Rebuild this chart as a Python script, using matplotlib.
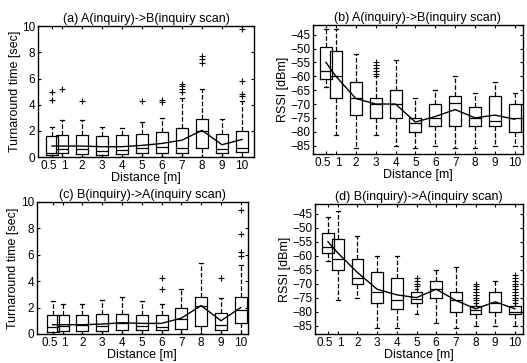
import numpy as np
import matplotlib.pyplot as plt
import matplotlib.transforms as mtransforms

plt.rcParams['font.family'] = ['Liberation Sans', 'DejaVu Sans']

# x positions / labels
dist = [0.5, 1, 2, 3, 4, 5, 6, 7, 8, 9, 10]
dist_labels = ['0.5', '1', '2', '3', '4', '5', '6', '7', '8', '9', '10']

# (a) A(inquiry)->B(inquiry scan), turnaround time [sec]
a_lo = [0, 0, 0, 0, 0, 0, 0, 0, 0, 0, 0]
a_q1 = [0.2, 0.3, 0.25, 0.2, 0.25, 0.35, 0.35, 0.3, 0.7, 0.3, 0.4]
a_med = [0.35, 0.6, 0.6, 0.45, 0.55, 0.7, 0.8, 0.7, 2.0, 0.6, 0.7]
a_q3 = [1.6, 1.7, 1.7, 1.6, 1.7, 1.8, 1.9, 2.2, 2.9, 1.8, 2.0]
a_hi = [2.3, 2.8, 2.8, 2.3, 2.2, 2.7, 3.0, 4.5, 5.2, 2.9, 4.3]
a_mean = [0.85, 0.85, 0.85, 0.8, 0.8, 0.9, 1.05, 1.3, 2.05, 0.95, 1.35]
a_out = [[4.4, 5.0], [5.2], [4.3], [], [], [4.3], [4.2, 4.35],
         [5.0, 5.2, 5.4, 5.6], [7.2, 7.5, 7.7], [], [4.7, 4.8, 5.8, 9.8]]

# (b) A(inquiry)->B(inquiry scan), RSSI [dBm]
b_lo = [-64, -81, -86, -81, -85, -86, -85, -86, -86, -85, -85]
b_q1 = [-61, -68, -74, -75, -75, -80, -78, -78, -78, -78, -80]
b_med = [-58, -60, -68, -70, -70, -77, -75, -69.5, -75, -76, -75]
b_q3 = [-49.5, -51, -62, -68, -65, -75, -70, -67, -71, -67, -70]
b_hi = [-43, -43, -52, -60, -54, -68, -65, -60, -66, -62, -66]
b_mean = [-55, -60, -68, -70, -70, -76.5, -74.5, -72, -75, -74, -75.5]
b_out = [[], [], [], [-55, -56, -57, -58, -59], [], [], [], [], [], [], []]

# (c) B(inquiry)->A(inquiry scan), turnaround time [sec]
c_lo = [0, 0, 0, 0, 0, 0, 0, 0, 0, 0, 0]
c_q1 = [0.15, 0.25, 0.25, 0.25, 0.3, 0.3, 0.3, 0.4, 0.6, 0.3, 0.8]
c_med = [0.5, 0.6, 0.65, 0.6, 0.8, 0.6, 0.5, 1.1, 2.1, 0.7, 1.8]
c_q3 = [1.4, 1.4, 1.4, 1.5, 1.5, 1.4, 1.4, 2.0, 2.8, 1.6, 2.8]
c_hi = [2.5, 2.3, 2.3, 2.6, 2.8, 2.5, 2.3, 3.4, 5.4, 2.7, 5.2]
c_mean = [0.7, 0.7, 0.7, 0.75, 0.85, 0.8, 0.8, 1.2, 2.15, 1.0, 2.0]
c_out = [[], [], [], [], [], [], [3.4, 4.2], [], [], [4.2],
         [5.9, 6.2, 7.6, 9.4]]

# (d) B(inquiry)->A(inquiry scan), RSSI [dBm]
d_lo = [-62, -76, -75, -86, -86, -81, -84, -86, -85, -85, -85]
d_q1 = [-59, -65, -70, -77, -79, -77, -75, -80, -81, -80, -81]
d_med = [-57, -61, -68, -73, -76, -75.5, -72, -76, -79.5, -77, -80]
d_q3 = [-52, -54, -61, -66, -68, -73, -69, -73, -78, -73, -78]
d_hi = [-46, -44, -53, -60, -60, -72, -65, -64, -77, -69, -77]
d_mean = [-55, -59, -66, -72, -74, -75, -72, -76, -79, -76.5, -79]
d_out = [[], [], [], [], [], [-68, -69, -70, -71], [], [],
         [-70, -71, -72, -73, -74, -75, -76], [],
         [-67, -68, -69, -70, -71, -72, -73, -74, -75, -76]]


def draw(ax, lo, q1, med, q3, hi, mean, out):
    stats = []
    for i in range(len(dist)):
        stats.append(dict(whislo=lo[i], q1=q1[i], med=med[i], q3=q3[i],
                          whishi=hi[i], fliers=out[i]))
    ax.bxp(stats, positions=dist, widths=0.6, capwidths=0.2,
           boxprops=dict(color='black', linewidth=0.9),
           medianprops=dict(color='black', linewidth=0.9),
           whiskerprops=dict(color='black', linestyle='--', linewidth=0.9),
           capprops=dict(color='black', linewidth=0.9),
           flierprops=dict(marker='+', markeredgecolor='black',
                           markersize=4, markeredgewidth=0.8),
           manage_ticks=False)
    # mean line through all distances
    ax.plot(dist, mean, color='black', linewidth=1.0)
    ax.set_xticks(dist)
    ax.set_xticklabels(dist_labels)
    ax.tick_params(direction='in', top=True, right=True, labelsize=8.5,
                   length=2.5, pad=2)
    # nudge the crowded 0.5 / 1 labels apart
    labs = ax.get_xticklabels()
    labs[0].set_transform(labs[0].get_transform() +
                          mtransforms.ScaledTranslation(-2.5 / 72, 0, fig.dpi_scale_trans))
    labs[1].set_transform(labs[1].get_transform() +
                          mtransforms.ScaledTranslation(1.5 / 72, 0, fig.dpi_scale_trans))
    for s in ax.spines.values():
        s.set_linewidth(1.0)
    ax.set_xlabel('Distance [m]', fontsize=9, labelpad=0)


fig = plt.figure(figsize=(5.27, 3.63), dpi=100)

ax_a = fig.add_axes([0.072, 0.567, 0.41, 0.361])
draw(ax_a, a_lo, a_q1, a_med, a_q3, a_hi, a_mean, a_out)
ax_a.set_xlim(-0.2, 10.6)
ax_a.set_ylim(0, 10)
ax_a.set_yticks([0, 2, 4, 6, 8, 10])
ax_a.set_ylabel('Turnaround time [sec]', fontsize=9, labelpad=1)
ax_a.set_title('(a) A(inquiry)->B(inquiry scan)', fontsize=9, pad=3)

ax_b = fig.add_axes([0.594, 0.576, 0.398, 0.355])
draw(ax_b, b_lo, b_q1, b_med, b_q3, b_hi, b_mean, b_out)
ax_b.set_xlim(-0.15, 10.4)
ax_b.set_ylim(-88, -41.5)
ax_b.set_yticks(np.arange(-85, -44, 5))
ax_b.set_ylabel('RSSI [dBm]', fontsize=9, labelpad=1)
ax_b.set_title('(b) A(inquiry)->B(inquiry scan)', fontsize=9, pad=3)

ax_c = fig.add_axes([0.070, 0.080, 0.40, 0.364])
draw(ax_c, c_lo, c_q1, c_med, c_q3, c_hi, c_mean, c_out)
ax_c.set_xlim(-0.3, 10.35)
ax_c.set_ylim(0, 10)
ax_c.set_yticks([0, 2, 4, 6, 8, 10])
ax_c.set_ylabel('Turnaround time [sec]', fontsize=9, labelpad=1)
ax_c.set_title('(c) B(inquiry)->A(inquiry scan)', fontsize=9, pad=3)

ax_d = fig.add_axes([0.598, 0.080, 0.394, 0.358])
draw(ax_d, d_lo, d_q1, d_med, d_q3, d_hi, d_mean, d_out)
ax_d.set_xlim(-0.15, 10.4)
ax_d.set_ylim(-88, -41.5)
ax_d.set_yticks(np.arange(-85, -44, 5))
ax_d.set_ylabel('RSSI [dBm]', fontsize=9, labelpad=1)
ax_d.set_title('(d) B(inquiry)->A(inquiry scan)', fontsize=9, pad=3)

fig.savefig('out.png', dpi=100)
